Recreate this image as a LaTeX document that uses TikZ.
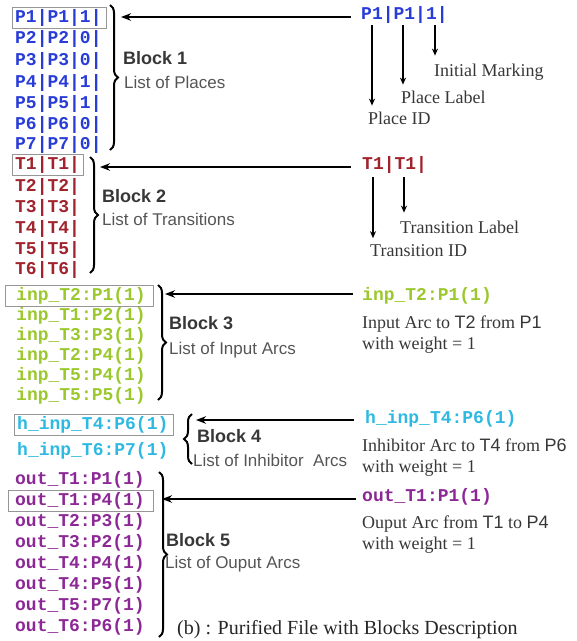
\documentclass[tikz,border=0pt]{standalone}
\usepackage{fontspec}
\setmainfont{Liberation Serif}
\setmonofont{Liberation Mono}
\newfontfamily\arialf{Liberation Sans}
\usetikzlibrary{arrows.meta,decorations.pathreplacing,fit,calc}
\definecolor{cP}{RGB}{40,60,215}
\definecolor{cT}{RGB}{160,35,45}
\definecolor{cI}{RGB}{155,200,45}
\definecolor{cH}{RGB}{45,185,225}
\definecolor{cO}{RGB}{140,40,150}
\definecolor{boxg}{RGB}{150,150,150}
\definecolor{txtg}{RGB}{55,55,55}
\definecolor{subg}{RGB}{85,85,85}
\begin{document}
\begin{tikzpicture}[x=1pt,y=-1pt,
 code/.style={font=\ttfamily\bfseries\fontsize{18}{18}\selectfont, anchor=mid west, inner xsep=1pt, inner ysep=2pt, yshift=-4pt},
 rowbox/.style={draw=boxg, line width=0.8pt, inner ysep=0pt, inner xsep=2pt},
 blk/.style={font=\arialf\bfseries\fontsize{18}{18}\selectfont, text=txtg, anchor=mid west, inner sep=0pt, yshift=-4pt},
 sub/.style={font=\arialf\fontsize{17}{17}\selectfont, text=subg, anchor=mid west, inner sep=0pt, yshift=-4pt},
 lbl/.style={font=\fontsize{18}{18}\selectfont, text=txtg, anchor=mid west, inner sep=0pt, yshift=-4pt},
 brc/.style={decorate, decoration={brace, amplitude=8pt}, line width=2pt},
 harr/.style={line width=1.7pt, -{Stealth[length=10pt,width=7.5pt]}},
 varr/.style={line width=1.7pt, -{Stealth[length=7pt,width=6pt]}},
]
\useasboundingbox (0,0) rectangle (577,641);

% ---------- left column: lists ----------
\foreach \t/\y [count=\i] in {{P1|P1|1|}/16,{P2|P2|0|}/37,{P3|P3|0|}/59,{P4|P4|1|}/81,{P5|P5|1|}/102,{P6|P6|0|}/123,{P7|P7|0|}/143}
  \node[code,text=cP] (p\i) at (14,\y) {\t};
\foreach \t/\y [count=\i] in {{T1|T1|}/163,{T2|T2|}/185,{T3|T3|}/206,{T4|T4|}/227,{T5|T5|}/248,{T6|T6|}/268}
  \node[code,text=cT] (t\i) at (14,\y) {\t};
\foreach \t/\y [count=\i] in {{inp\_T2:P1(1)}/294,{inp\_T1:P2(1)}/314,{inp\_T3:P3(1)}/334,{inp\_T2:P4(1)}/354,{inp\_T5:P4(1)}/374,{inp\_T5:P5(1)}/394}
  \node[code,text=cI] (i\i) at (15,\y) {\t};
\foreach \t/\y [count=\i] in {{h\_inp\_T4:P6(1)}/423,{h\_inp\_T6:P7(1)}/449}
  \node[code,text=cH] (h\i) at (16,\y) {\t};
\foreach \t/\y [count=\i] in {{out\_T1:P1(1)}/478,{out\_T1:P4(1)}/499,{out\_T2:P3(1)}/520,{out\_T3:P2(1)}/541,{out\_T4:P4(1)}/562,{out\_T4:P5(1)}/583,{out\_T5:P7(1)}/604,{out\_T6:P6(1)}/625}
  \node[code,text=cO] (o\i) at (14,\y) {\t};

% boxes around the first described row of each block
\node[rowbox, fit={(p1) ($(p1.east)+(2,0)$)}] (bx1) {};
\node[rowbox, fit=(t1)] (bx2) {};
\node[rowbox, fit={(i1) ($(i1.west)+(-8,0)$) ($(i1.east)+(4,0)$)}] (bx3) {};
\node[rowbox, fit={(h1) ($(h1.east)+(2,0)$)}] (bx4) {};
\node[rowbox, fit={(o2) ($(o2.west)+(-4,0)$) ($(o2.east)+(5,0)$)}] (bx5) {};

% braces
\draw[brc] (110,5) -- (110,150);
\draw[brc] (90,157) -- (90,273);
\draw[brc] (158,285) -- (158,400);
\draw[brc] (192,464) -- (192,414);
\draw[brc] (159,472) -- (159,637);

% block titles
\node[blk] (bk1) at (123,58) {Block 1};
\node[sub] (ls1) at (124,82) {List of Places};
\node[blk] (bk2) at (102,196) {Block 2};
\node[sub] (ls2) at (102,219) {List of Transitions};
\node[blk] (bk3) at (169,323) {Block 3};
\node[sub] (ls3) at (169,348) {List of Input Arcs};
\node[blk] (bk4) at (197,436) {Block 4};
\node[sub] (ls4) at (193,460) {List of Inhibitor\ \ Arcs};
\node[blk] (bk5) at (166,540) {Block 5};
\node[sub] (ls5) at (165,562) {List of Ouput Arcs};

% ---------- right column: descriptions ----------
\node[code,text=cP] (rp) at (360,13) {P1|P1|1|};
\node[lbl] (lim) at (434,70) {Initial Marking};
\node[lbl] (lpl) at (401,97) {Place Label};
\node[lbl] (lpi) at (368,118) {Place ID};

\node[code,text=cT] (rt) at (361,163) {T1|T1|};
\node[lbl] (ltl) at (400,227) {Transition Label};
\node[lbl] (lti) at (370,250) {Transition ID};

\node[code,text=cI] (ri) at (361,294) {inp\_T2:P1(1)};
\node[lbl] (li1) at (362,322) {Input Arc to {\arialf T2} from {\arialf P1}};
\node[lbl] (li2) at (362,343) {with weight = 1};

\node[code,text=cH] (rh) at (364,417) {h\_inp\_T4:P6(1)};
\node[lbl] (lh1) at (362,445) {Inhibitor Arc to {\arialf T4} from {\arialf P6}};
\node[lbl] (lh2) at (362,466) {with weight = 1};

\node[code,text=cO] (ro) at (361,495) {out\_T1:P1(1)};
\node[lbl] (lo1) at (362,522) {Ouput Arc from {\arialf T1} to {\arialf P4}};
\node[lbl] (lo2) at (362,543) {with weight = 1};

\node[font=\fontsize{20}{20}\selectfont, text=black!85, anchor=mid west, inner sep=0pt, yshift=-4pt] (cap) at (177,628) {(b) : Purified File with Blocks Description};

% ---------- horizontal connectors ----------
\coordinate (e1) at (121,17);
\coordinate (e2) at (100,167);
\coordinate (e3) at (165,294);
\coordinate (e4) at (196,420);
\coordinate (e5) at (162,499);
\draw[harr] (e1 -| rp.west) ++(-9,0) -- (e1);
\draw[harr] (e2 -| rt.west) ++(-10,0) -- (e2);
\draw[harr] (e3 -| ri.west) ++(-8,0) -- (e3);
\draw[harr] (e4 -| rh.west) ++(-10,0) -- (e4);
\draw[harr] (e5 -| ro.west) ++(-5,0) -- (e5);

% ---------- vertical connectors ----------
\coordinate (s1) at (372,25);
\coordinate (s2) at (403,25);
\coordinate (s3) at (435,25);
\coordinate (s4) at (373,177);
\coordinate (s5) at (404,177);
\draw[varr] (s1) -- ([yshift=6pt]s1 |- lpi.north);
\draw[varr] (s2) -- ([yshift=6pt]s2 |- lpl.north);
\draw[varr] (s3) -- ([yshift=8pt]s3 |- lim.north);
\draw[varr] (s4) -- ([yshift=6pt]s4 |- lti.north);
\draw[varr] (s5) -- ([yshift=8pt]s5 |- ltl.north);
\end{tikzpicture}
\end{document}
